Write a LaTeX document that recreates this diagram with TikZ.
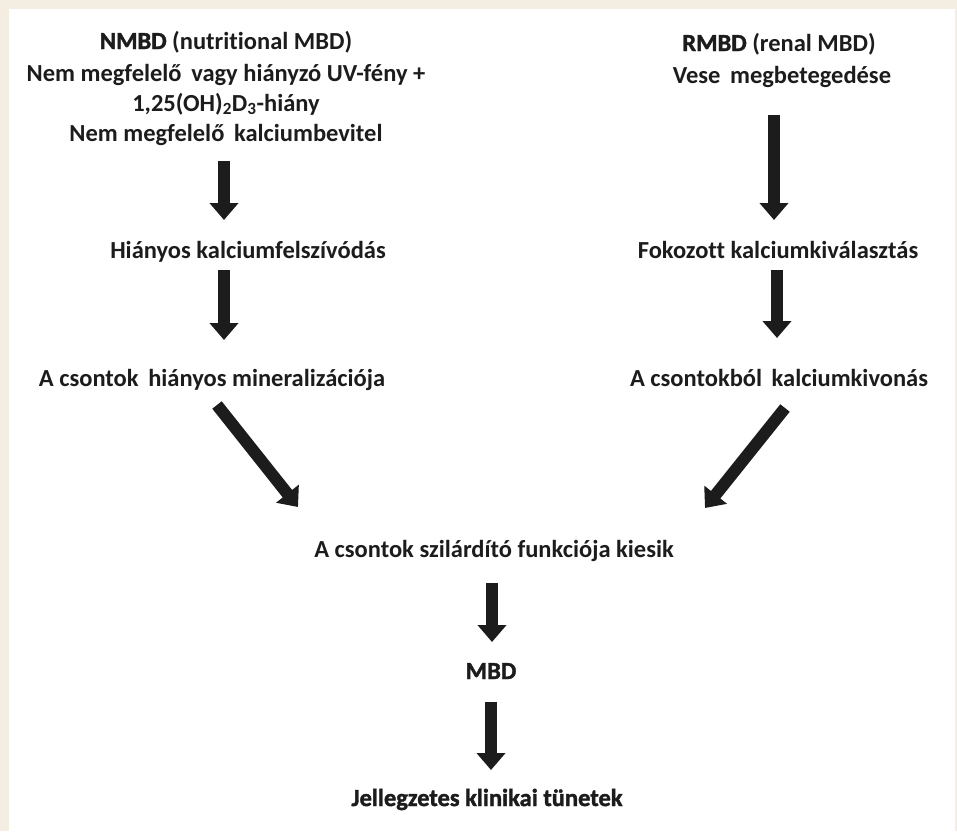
\documentclass[tikz,border=0pt]{standalone}
\usepackage{fontspec}
\setmainfont{Carlito}[Ligatures=NoCommon, UprightFont={* Bold}, BoldFont={* Bold}, BoldFeatures={FakeBold=1.6}]
\usetikzlibrary{arrows.meta}
\definecolor{ink}{HTML}{1C1C1C}
\definecolor{paper}{HTML}{F4EEE2}
\begin{document}
\begin{tikzpicture}[x=1pt,y=-1pt,
  lbl/.style={font=\fontsize{24.5}{30}\selectfont, text=ink, inner sep=0pt, anchor=base},
  bigarrow/.style={draw=ink, line width=12pt, -{Triangle[width=28pt,length=17pt]}}]
\fill[paper] (0,0) rectangle (957,831);
\fill[white] (9,9) rectangle (955,831);
\useasboundingbox (0,0) rectangle (957,831);
% left column
\node[lbl] (n1) at (226,49) {\textbf{NMBD} (nutritional MBD)};
\node[lbl] (n2) at (226,81) {Nem megfelelő\, vagy hiányzó UV-fény +};
\node[lbl] (n3) at (226,111) {1,25(OH)\textsubscript{2}D\textsubscript{3}-hiány};
\node[lbl] (n4) at (226,141) {Nem megfelelő\, kalciumbevitel};
\node[lbl] (l2) at (248,258) {Hiányos kalciumfelszívódás};
\node[lbl] (l3) at (212,386) {A csontok\, hiányos mineralizációja};
% right column
\node[lbl] (r1) at (779,51) {\textbf{RMBD} (renal MBD)};
\node[lbl] (r2) at (782,83) {Vese\, megbetegedése};
\node[lbl] (r3) at (778,258) {Fokozott kalciumkiválasztás};
\node[lbl] (r4) at (779,386) {A csontokból\, kalciumkivonás};
% middle
\node[lbl] (m1) at (494,557) {A csontok szilárdító funkciója kiesik};
\node[lbl] (m2) at (491,679) {\textbf{MBD}};
\node[lbl] (m3) at (487,806) {\textbf{Jellegzetes klinikai tünetek}};
% arrow end points
\coordinate (a1s) at (224,161); \coordinate (a1e) at (224,220);
\coordinate (a2s) at (224,270); \coordinate (a2e) at (224,340);
\coordinate (b1s) at (774,115); \coordinate (b1e) at (774,220);
\coordinate (b2s) at (777,270); \coordinate (b2e) at (777,338);
\coordinate (d1s) at (217,405); \coordinate (d1e) at (298,507);
\coordinate (d2s) at (785,408); \coordinate (d2e) at (705,508);
\coordinate (c1s) at (492,583); \coordinate (c1e) at (492,642);
\coordinate (c2s) at (491,702); \coordinate (c2e) at (491,770);
\draw[bigarrow] (a1s) -- (a1e);
\draw[bigarrow] (a2s) -- (a2e);
\draw[bigarrow] (b1s) -- (b1e);
\draw[bigarrow] (b2s) -- (b2e);
\draw[bigarrow] (d1s) -- (d1e);
\draw[bigarrow] (d2s) -- (d2e);
\draw[bigarrow] (c1s) -- (c1e);
\draw[bigarrow] (c2s) -- (c2e);
\end{tikzpicture}
\end{document}
